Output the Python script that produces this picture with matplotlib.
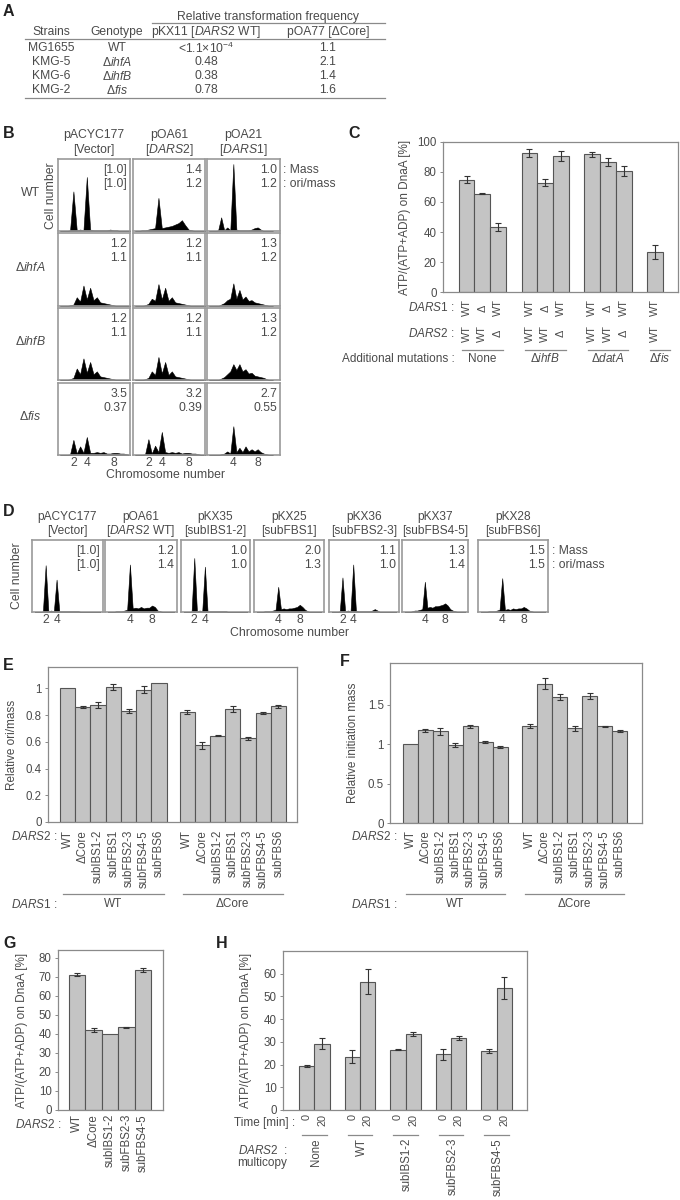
import numpy as np
import matplotlib
matplotlib.use('Agg')
import matplotlib.pyplot as plt
from matplotlib.transforms import blended_transform_factory
from matplotlib.lines import Line2D

plt.rcParams['font.family'] = ['Liberation Sans', 'DejaVu Sans']
plt.rcParams['mathtext.fontset'] = 'custom'
plt.rcParams['mathtext.rm'] = 'Liberation Sans'
plt.rcParams['mathtext.it'] = 'Liberation Sans:italic'

# ------------------------- DATA -------------------------
# Panel A
a_headers = ['Strains', 'Genotype', 'pKX11 [$\\mathit{DARS2}$ WT]', 'pOA77 [ΔCore]']
a_strains = ['MG1655', 'KMG-5', 'KMG-6', 'KMG-2']
a_genotypes = ['WT', 'Δ$\\mathit{ihfA}$', 'Δ$\\mathit{ihfB}$', 'Δ$\\mathit{fis}$']
a_pkx11 = ['<1.1×10$^{-4}$', '0.48', '0.38', '0.78']
a_poa77 = ['1.1', '2.1', '1.4', '1.6']

# Panel B
b_plasmids = ['pACYC177', 'pOA61', 'pOA21']
b_inserts = ['[Vector]', '[$\\mathit{DARS2}$]', '[$\\mathit{DARS1}$]']
b_strains = ['WT', 'Δ$\\mathit{ihfA}$', 'Δ$\\mathit{ihfB}$', 'Δ$\\mathit{fis}$']
b_mass = [['[1.0]', '1.4', '1.0'], ['1.2', '1.2', '1.3'], ['1.2', '1.2', '1.3'], ['3.5', '3.2', '2.7']]
b_orimass = [['[1.0]', '1.2', '1.2'], ['1.1', '1.1', '1.2'], ['1.1', '1.1', '1.2'], ['0.37', '0.39', '0.55']]
b_chrom = np.arange(0, 10.51, 0.5)
b_hist = [
    [[0,0,0,1,55,1,2,1,75,2,1,1,1,1,1,2,1,1,0,0,0,0],
     [0,0,1,1,2,3,4,46,4,5,6,7,9,11,15,8,2,1,0,0,0,0],
     [0,0,0,1,19,1,5,1,93,2,1,1,1,1,2,4,5,2,0,0,0,0]],
    [[0,0,0,1,2,12,6,28,9,25,8,12,5,4,3,2,1,0,0,0,0,0],
     [0,0,0,1,3,10,7,30,9,25,7,12,5,4,3,2,1,0,0,0,0,0],
     [0,0,0,0,2,4,8,10,31,10,22,9,13,7,8,5,4,3,2,1,0,0]],
    [[0,0,0,1,3,16,8,30,10,25,8,12,5,4,3,2,1,0,0,0,0,0],
     [0,0,0,1,3,12,7,32,9,25,7,12,5,4,3,2,1,0,0,0,0,0],
     [0,0,0,0,2,4,8,12,22,14,22,12,15,9,10,6,5,4,3,1,0,0]],
    [[0,0,0,1,21,2,12,3,25,3,3,4,3,4,2,2,3,3,2,2,1,0],
     [0,0,0,1,22,2,13,4,32,4,3,4,3,4,2,3,3,2,2,1,0,0],
     [0,0,0,0,1,2,5,2,40,4,10,4,12,5,8,5,8,4,2,1,0,0]],
]
b_ticks = [[2, 4, 8], [2, 4, 8], [4, 8]]

# Panel C
c_dars1 = ['WT', 'Δ', 'WT', 'WT', 'Δ', 'WT', 'WT', 'Δ', 'WT', 'WT']
c_dars2 = ['WT', 'WT', 'Δ', 'WT', 'WT', 'Δ', 'WT', 'WT', 'Δ', 'WT']
c_groups = ['None', 'Δ$\\mathit{ihfB}$', 'Δ$\\mathit{datA}$', 'Δ$\\mathit{fis}$']
c_group_sizes = [3, 3, 3, 1]
c_values = [74.8, 65.6, 43.3, 92.7, 73.0, 90.8, 91.8, 86.8, 80.5, 26.7]
c_errors = [2.3, 0.4, 2.6, 2.7, 2.3, 3.4, 1.7, 2.5, 3.3, 4.4]

# Panel D
d_plasmids = ['pACYC177', 'pOA61', 'pKX35', 'pKX25', 'pKX36', 'pKX37', 'pKX28']
d_inserts = ['[Vector]', '[$\\mathit{DARS2}$ WT]', '[subIBS1-2]', '[subFBS1]',
             '[subFBS2-3]', '[subFBS4-5]', '[subFBS6]']
d_mass = ['[1.0]', '1.2', '1.0', '2.0', '1.1', '1.3', '1.5']
d_orimass = ['[1.0]', '1.4', '1.0', '1.3', '1.0', '1.4', '1.5']
d_chrom = np.arange(0, 12.01, 0.5)
d_hist = [
    [0,0,0,1,65,1,2,1,45,1,1,1,1,1,1,1,1,0,0,0,0,0,0,0,0],
    [0,0,0,1,1,1,2,3,66,5,6,5,7,5,6,6,9,7,2,1,0,0,0,0,0],
    [0,0,0,1,75,1,2,1,63,1,1,1,1,1,1,1,1,0,0,0,0,0,0,0,0],
    [0,0,0,1,1,1,2,3,35,4,5,4,5,5,6,7,10,7,3,1,0,0,0,0,0],
    [0,0,0,1,48,1,2,1,66,2,1,1,1,1,1,2,4,2,0,0,0,0,0,0,0],
    [0,0,0,1,2,2,3,4,42,6,7,6,8,8,9,10,12,9,4,2,1,0,0,0,0],
    [0,0,0,1,1,1,2,3,47,3,4,3,5,4,5,5,7,5,2,1,0,0,0,0,0],
]
d_ticks = [[2, 4], [4, 8], [2, 4], [4, 8], [2, 4], [4, 8], [4, 8]]

# Panels E / F
ef_dars2 = ['WT', 'ΔCore', 'subIBS1-2', 'subFBS1', 'subFBS2-3', 'subFBS4-5', 'subFBS6']
ef_dars1 = ['WT', 'ΔCore']
e_values_wt = [1.00, 0.86, 0.875, 1.01, 0.83, 0.99, 1.04]
e_err_wt = [0, 0.01, 0.025, 0.025, 0.015, 0.025, 0]
e_values_dcore = [0.82, 0.575, 0.645, 0.845, 0.625, 0.815, 0.865]
e_err_dcore = [0.015, 0.025, 0.005, 0.025, 0.01, 0.005, 0.01]
f_values_wt = [1.00, 1.175, 1.165, 0.99, 1.225, 1.03, 0.965]
f_err_wt = [0, 0.015, 0.045, 0.02, 0.02, 0.01, 0.01]
f_values_dcore = [1.225, 1.765, 1.60, 1.20, 1.615, 1.225, 1.165]
f_err_dcore = [0.025, 0.07, 0.04, 0.03, 0.04, 0.01, 0.015]

# Panel G
g_dars2 = ['WT', 'ΔCore', 'subIBS1-2', 'subFBS2-3', 'subFBS4-5']
g_values = [71.0, 42.0, 40.0, 43.5, 73.5]
g_err = [0.8, 1.0, 0, 0.2, 1.2]

# Panel H
h_dars2 = ['None', 'WT', 'subIBS1-2', 'subFBS2-3', 'subFBS4-5']
h_times = ['0', '20']
h_t0 = [19.5, 23.5, 26.5, 24.5, 26.0]
h_t0_err = [0.5, 2.7, 0.2, 2.5, 1.0]
h_t20 = [29.2, 56.5, 33.4, 31.7, 53.6]
h_t20_err = [2.3, 5.4, 0.8, 0.8, 4.8]

# ------------------------- STYLE -------------------------
TXT = '#4a4a4a'
LINE = '#8a8a8a'
BAR = '#c4c4c4'
EDGE = '#555555'
FS = 8.5
W, H = 680, 1200
fig = plt.figure(figsize=(6.8, 12), dpi=100)


def add_ax(l, t, r, b):
    return fig.add_axes([l / W, 1 - b / H, (r - l) / W, (b - t) / H])


def ftext(x, y, s, **kw):
    kw.setdefault('color', TXT)
    kw.setdefault('fontsize', FS)
    kw.setdefault('ha', 'center')
    kw.setdefault('va', 'center')
    return fig.text(x / W, 1 - y / H, s, **kw)


def fline(x0, x1, y, **kw):
    fig.add_artist(Line2D([x0 / W, x1 / W], [1 - y / H, 1 - y / H], color=LINE, lw=0.9, **kw))


def letter(x, y, s):
    ftext(x, y, s, fontsize=11.5, fontweight='bold', ha='left', color='#222222')


def style_bar_ax(ax):
    for s in ax.spines.values():
        s.set_color(LINE)
        s.set_linewidth(0.9)
    ax.tick_params(axis='x', bottom=False, labelbottom=False)
    ax.tick_params(axis='y', direction='out', length=2.5, width=0.7, color=LINE,
                   labelsize=8.3, labelcolor=TXT, pad=2)


def draw_bars(ax, pos, vals, errs):
    ax.bar(pos, vals, width=1.0, color=BAR, edgecolor=EDGE, linewidth=0.8, zorder=2)
    pos = np.asarray(pos, float)
    vals = np.asarray(vals, float)
    errs = np.asarray(errs, float)
    m = errs > 0
    ax.errorbar(pos[m], vals[m], yerr=errs[m], fmt='none', ecolor='#333333',
                elinewidth=0.8, capsize=2.3, capthick=0.8, zorder=3)


def blended(ax):
    return blended_transform_factory(ax.transData, fig.transFigure)


def under_text(ax, x, ypx, s, **kw):
    kw.setdefault('color', TXT)
    kw.setdefault('fontsize', 8.3)
    kw.setdefault('ha', 'center')
    ax.text(x, 1 - ypx / H, s, transform=blended(ax), clip_on=False, **kw)


def under_line(ax, x0, x1, ypx):
    ax.add_line(Line2D([x0, x1], [1 - ypx / H] * 2, transform=blended(ax),
                       color=LINE, lw=0.9, clip_on=False))


def hist_ax(l, t, r, b, x, h, xlim, ticks):
    ax = add_ax(l, t, r, b)
    ax.fill_between(x, 0, h, color='black', edgecolor='black', lw=0.4)
    ax.set_xlim(*xlim)
    ax.set_ylim(0, 100)
    ax.set_yticks([])
    for s in ax.spines.values():
        s.set_color('#9a9a9a')
        s.set_linewidth(1.2)
    if ticks:
        ax.set_xticks(ticks)
        ax.set_xticklabels([str(t) for t in ticks])
        ax.tick_params(axis='x', length=0, labelsize=8.7, labelcolor=TXT, pad=1.5)
    else:
        ax.set_xticks([])
    return ax


# ------------------------- PANEL A -------------------------
letter(3, 11, 'A')
ftext(268, 17, 'Relative transformation frequency', fontsize=8.7)
fline(152, 385, 23)
a_cols_x = [51, 117, 206, 328]
for x, s in zip(a_cols_x, a_headers):
    ftext(x, 32, s, fontsize=8.7)
fline(25, 385, 39)
a_rows_y = [48, 62, 76, 90]
for i, y in enumerate(a_rows_y):
    for x, s in zip(a_cols_x, [a_strains[i], a_genotypes[i], a_pkx11[i], a_poa77[i]]):
        ftext(x, y, s, fontsize=8.7)
fline(25, 385, 98)

# ------------------------- PANEL B -------------------------
letter(3, 133, 'B')
b_left = [58, 133, 207]
b_right = [130, 205, 280]
b_top = [159, 233, 308, 383]
b_bot = [231, 306, 380, 455]
b_xlim = [(-0.3, 10.45), (-0.3, 10.45), (-0.33, 11.67)]
for j in range(3):
    cx = (b_left[j] + b_right[j]) / 2
    ftext(cx, 135, b_plasmids[j], fontsize=8.8)
    ftext(cx, 150, b_inserts[j], fontsize=8.8)
for i in range(4):
    ftext(30, (b_top[i] + b_bot[i]) / 2 - 2, b_strains[i], fontsize=8.8)
    for j in range(3):
        hist_ax(b_left[j], b_top[i], b_right[j], b_bot[i], b_chrom, b_hist[i][j],
                b_xlim[j], b_ticks[j] if i == 3 else None)
        ftext(b_right[j] - 3, b_top[i] + 11, b_mass[i][j], ha='right', fontsize=8.7)
        ftext(b_right[j] - 3, b_top[i] + 25, b_orimass[i][j], ha='right', fontsize=8.7)
ftext(283, 170, ': Mass', ha='left', fontsize=8.7)
ftext(283, 184, ': ori/mass', ha='left', fontsize=8.7)
ftext(51, 196, 'Cell number', rotation=90, fontsize=8.8)
ftext(166, 475, 'Chromosome number', fontsize=8.8)

# ------------------------- PANEL C -------------------------
letter(348, 133, 'C')
axc = add_ax(443, 142, 678, 292)
style_bar_ax(axc)
c_pos = []
start = 0
for n in c_group_sizes:
    c_pos.extend(range(start, start + n))
    start += n + 1
draw_bars(axc, c_pos, c_values, c_errors)
axc.set_xlim(-1.5, 13.45)
axc.set_ylim(0, 100)
axc.set_yticks([0, 20, 40, 60, 80, 100])
ftext(405, 217, 'ATP/(ATP+ADP) on DnaA [%]', rotation=90, fontsize=8.5)
ftext(455, 308, '$\\mathit{DARS1}$ :', ha='right')
ftext(455, 333, '$\\mathit{DARS2}$ :', ha='right')
ftext(455, 359, 'Additional mutations :', ha='right')
for p, s1, s2 in zip(c_pos, c_dars1, c_dars2):
    under_text(axc, p, 308, s1, rotation=90, va='center', fontsize=7.8)
    under_text(axc, p, 333, s2, rotation=90, va='center', fontsize=7.8)
k = 0
for g, n in zip(c_groups, c_group_sizes):
    p0, p1 = c_pos[k], c_pos[k + n - 1]
    under_line(axc, p0 - 0.3, p1 + 0.3 if n > 1 else p1 + 0.95, 350)
    under_text(axc, (p0 + p1) / 2 + (0.3 if n == 1 else 0), 359, g, va='center', fontsize=8.5)
    k += n

# ------------------------- PANEL D -------------------------
letter(3, 511, 'D')
d_left = [32, 105, 181, 254, 329, 402, 478]
d_right = [103, 177, 250, 324, 399, 468, 548]
for j in range(7):
    cx = (d_left[j] + d_right[j]) / 2
    ftext(cx, 517, d_plasmids[j], fontsize=8.6)
    ftext(cx, 531, d_inserts[j], fontsize=8.6)
    hist_ax(d_left[j], 540, d_right[j], 612, d_chrom, d_hist[j], (-0.5, 12.5), d_ticks[j])
    ftext(d_right[j] - 3, 551, d_mass[j], ha='right', fontsize=8.7)
    ftext(d_right[j] - 3, 565, d_orimass[j], ha='right', fontsize=8.7)
ftext(552, 551, ': Mass', ha='left', fontsize=8.7)
ftext(552, 565, ': ori/mass', ha='left', fontsize=8.7)
ftext(17, 576, 'Cell number', rotation=90, fontsize=8.8)
ftext(289, 633, 'Chromosome number', fontsize=8.8)


# ------------------------- PANELS E / F -------------------------
def ef_panel(box, vals_wt, err_wt, vals_dc, err_dc, gap, xlim, ylim, yticks, ytl,
             ylabel, ylab_x, lab_x):
    ax = add_ax(*box)
    style_bar_ax(ax)
    n = len(ef_dars2)
    p1 = np.arange(n)
    p2 = np.arange(n) + n + gap
    draw_bars(ax, p1, vals_wt, err_wt)
    draw_bars(ax, p2, vals_dc, err_dc)
    ax.set_xlim(*xlim)
    ax.set_ylim(*ylim)
    ax.set_yticks(yticks)
    ax.set_yticklabels(ytl)
    ftext(ylab_x, (box[1] + box[3]) / 2, ylabel, rotation=90, fontsize=8.5)
    ftext(lab_x, 837, '$\\mathit{DARS2}$ :', ha='right')
    ftext(lab_x, 904, '$\\mathit{DARS1}$ :', ha='right')
    for pp, grp in ((p1, ef_dars1[0]), (p2, ef_dars1[1])):
        for p, s in zip(pp, ef_dars2):
            under_text(ax, p, 830, s, rotation=90, va='top')
        under_line(ax, pp[0] - 0.3, pp[-1] + 0.3, 894)
        under_text(ax, (pp[0] + pp[-1]) / 2, 904, grp, va='center', fontsize=8.5)
    return ax


letter(3, 665, 'E')
ef_panel((48, 667, 297, 822), e_values_wt, e_err_wt, e_values_dcore, e_err_dcore,
         0.85, (-1.29, 15.07), (0, 1.16), [0, 0.2, 0.4, 0.6, 0.8, 1.0],
         ['0', '0.2', '0.4', '0.6', '0.8', '1'], 'Relative ori/mass', 12, 58)
letter(340, 662, 'F')
ef_panel((390, 663, 642, 823), f_values_wt, f_err_wt, f_values_dcore, f_err_dcore,
         1.0, (-1.37, 15.5), (0, 2.03), [0, 0.5, 1.0, 1.5],
         ['0', '0.5', '1', '1.5'], 'Relative initiation mass', 353, 398)

# ------------------------- PANEL G -------------------------
letter(3, 943, 'G')
axg = add_ax(58, 950, 163, 1110)
style_bar_ax(axg)
g_pos = np.arange(len(g_dars2))
draw_bars(axg, g_pos, g_values, g_err)
axg.set_xlim(-1.17, 5.23)
axg.set_ylim(0, 84)
axg.set_yticks(np.arange(0, 81, 10))
ftext(22, 1030, 'ATP/(ATP+ADP) on DnaA [%]', rotation=90, fontsize=8.5)
ftext(62, 1124, '$\\mathit{DARS2}$ :', ha='right')
for p, s in zip(g_pos, g_dars2):
    under_text(axg, p, 1114, s, rotation=90, va='top')

# ------------------------- PANEL H -------------------------
letter(216, 943, 'H')
axh = add_ax(283, 951, 527, 1110)
style_bar_ax(axh)
h_pos0 = np.arange(len(h_dars2)) * 3
h_pos20 = h_pos0 + 1
draw_bars(axh, h_pos0, h_t0, h_t0_err)
draw_bars(axh, h_pos20, h_t20, h_t20_err)
axh.set_xlim(-1.57, 14.5)
axh.set_ylim(0, 70)
axh.set_yticks(np.arange(0, 61, 10))
ftext(246, 1030, 'ATP/(ATP+ADP) on DnaA [%]', rotation=90, fontsize=8.5)
ftext(295, 1123, 'Time [min] :', ha='right')
ftext(263, 1150, '$\\mathit{DARS2}$  :', ha='center')
ftext(262, 1163, 'multicopy', ha='center')
for a, b, s in zip(h_pos0, h_pos20, h_dars2):
    under_text(axh, a, 1114, h_times[0], rotation=90, va='top', fontsize=7.8)
    under_text(axh, b, 1114, h_times[1], rotation=90, va='top', fontsize=7.8)
    under_line(axh, a - 0.3, b + 0.3, 1135)
    under_text(axh, (a + b) / 2 + 0.1, 1138, s, rotation=90, va='top')

fig.savefig('out.png', dpi=100, facecolor='white')
